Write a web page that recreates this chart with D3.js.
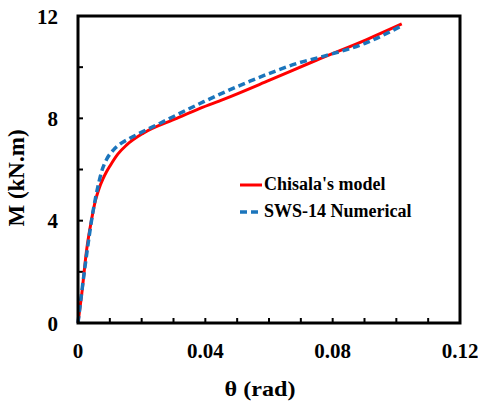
<!DOCTYPE html>
<html>
<head>
<meta charset="utf-8">
<script src="https://cdn.jsdelivr.net/npm/d3@7"></script>
<style>
  html, body { margin: 0; padding: 0; background: #fff; }
  svg { display: block; }
</style>
</head>
<body>
<svg id="chart" width="478" height="401"></svg>
<script>
// ---- data ----
const chisalaTheta = [0, 0.0012, 0.0027, 0.0042, 0.0055, 0.0066, 0.0078, 0.0090, 0.0101, 0.0125, 0.0153, 0.0205, 0.0310, 0.0383, 0.0457, 0.0600, 0.0750, 0.0907, 0.1017];
const chisalaM     = [0, 1.16, 2.85, 4.00, 4.80, 5.25, 5.62, 5.92, 6.15, 6.60, 6.96, 7.42, 8.00, 8.39, 8.74, 9.48, 10.28, 11.08, 11.69];
const numTheta = [0, 0.0022, 0.0048, 0.0062, 0.0074, 0.0090, 0.0111, 0.0135, 0.0163, 0.0258, 0.0395, 0.0540, 0.0697, 0.0781, 0.0907, 0.1020];
const numM     = [0, 2.20, 4.42, 5.30, 5.91, 6.40, 6.76, 7.02, 7.22, 7.81, 8.65, 9.45, 10.18, 10.46, 10.96, 11.64];
const xTickLabels = ["0", "0.04", "0.08", "0.12"];
const xTickValues = [0, 0.04, 0.08, 0.12];
const xMinorTicks = [0.01, 0.02, 0.03, 0.04, 0.05, 0.06, 0.07, 0.08, 0.09, 0.10, 0.11];
const yTickLabels = ["0", "4", "8", "12"];
const yTickValues = [0, 4, 8, 12];
const yMinorTicks = [2, 4, 6, 8, 10];
const seriesNames = ["Chisala's model", "SWS-14 Numerical"];

// ---- layout ----
const FONT = "'Liberation Serif'";
const svg = d3.select("#chart");
const L = 78, R = 460, T = 16, B = 323;
const x = d3.scaleLinear().domain([0, 0.12]).range([L, R]);
const y = d3.scaleLinear().domain([0, 12]).range([B, T]);

// ticks (inward)
const tickLen = 5;
svg.append("g").selectAll("line").data(xMinorTicks).join("line")
  .attr("x1", d => x(d)).attr("x2", d => x(d))
  .attr("y1", B).attr("y2", B - tickLen)
  .attr("stroke", "#000").attr("stroke-width", 2);
svg.append("g").selectAll("line").data(yMinorTicks).join("line")
  .attr("x1", L).attr("x2", L + tickLen)
  .attr("y1", d => y(d)).attr("y2", d => y(d))
  .attr("stroke", "#000").attr("stroke-width", 2);

// tick labels
svg.append("g").selectAll("text").data(xTickValues).join("text")
  .attr("x", d => x(d)).attr("y", 358)
  .attr("text-anchor", "middle").attr("font-size", 21)
  .style("font-family", FONT).style("font-weight", "bold")
  .text((d, i) => xTickLabels[i]);
svg.append("g").selectAll("text").data(yTickValues).join("text")
  .attr("x", 58).attr("y", d => y(d) + 7.5)
  .attr("text-anchor", "end").attr("font-size", 21)
  .style("font-family", FONT).style("font-weight", "bold")
  .text((d, i) => yTickLabels[i]);

// axis titles
svg.append("text").attr("x", 260).attr("y", 396)
  .attr("text-anchor", "middle").attr("font-size", 22)
  .attr("textLength", 71).attr("lengthAdjust", "spacingAndGlyphs")
  .style("font-family", FONT).style("font-weight", "bold").text("θ (rad)");
svg.append("text")
  .attr("transform", "translate(24,178) rotate(-90)")
  .attr("text-anchor", "middle").attr("font-size", 23)
  .style("font-family", FONT).style("font-weight", "bold").text("M (kN.m)");

// series
const line = d3.line().x(d => x(d[0])).y(d => y(d[1])).curve(d3.curveMonotoneX);
const redData = chisalaTheta.map((t, i) => [t, chisalaM[i]]);
const blueData = numTheta.map((t, i) => [t, numM[i]]);
svg.append("path").datum(redData).attr("d", line)
  .attr("fill", "none").attr("stroke", "#FF0000").attr("stroke-width", 3);
svg.append("path").datum(blueData).attr("d", line)
  .attr("fill", "none").attr("stroke", "#1B75BC").attr("stroke-width", 3.5)
  .attr("stroke-dasharray", "7,4");

// frame
svg.append("rect").attr("x", L).attr("y", T).attr("width", R - L).attr("height", B - T)
  .attr("fill", "none").attr("stroke", "#000").attr("stroke-width", 3);

// legend
const legend = svg.append("g");
const legY = [185, 212];
const legStyles = [
  { color: "#FF0000", dash: null, w: 3 },
  { color: "#1B75BC", dash: "7,4", w: 3.5 }
];
seriesNames.forEach((name, i) => {
  legend.append("line").attr("x1", 240).attr("x2", 262)
    .attr("y1", legY[i]).attr("y2", legY[i])
    .attr("stroke", legStyles[i].color).attr("stroke-width", legStyles[i].w)
    .attr("stroke-dasharray", legStyles[i].dash);
  legend.append("text").attr("x", 264).attr("y", legY[i] + 5)
    .attr("font-size", 18)
    .style("font-family", FONT).style("font-weight", "bold").text(name);
});
</script>
</body>
</html>
